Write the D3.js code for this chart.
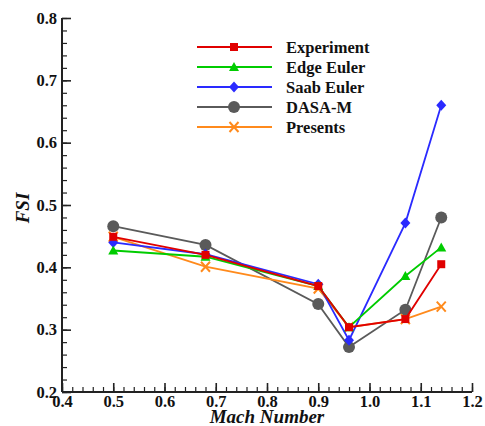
<!DOCTYPE html>
<html>
<head>
<meta charset="utf-8">
<script src="https://cdn.jsdelivr.net/npm/d3@7"></script>
<style>
  body { margin: 0; background: #fff; }
  svg text { font-family: "Liberation Serif", "Times New Roman", serif; font-weight: bold; fill: #111; }
</style>
</head>
<body>
<div id="plot"></div>
<script>
// data
var mach = [0.5, 0.68, 0.9, 0.96, 1.07, 1.14];
var experiment = [0.449, 0.420, 0.370, 0.304, 0.317, 0.405];
var edgeEuler = [0.427, 0.417, 0.370, 0.304, 0.386, 0.432];
var saabEuler = [0.440, 0.421, 0.373, 0.283, 0.471, 0.660];
var dasaM = [0.466, 0.436, 0.341, 0.272, 0.332, 0.480];
var presents = [0.449, 0.401, 0.366, 0.304, 0.317, 0.337];
var seriesNames = ["Experiment", "Edge Euler", "Saab Euler", "DASA-M", "Presents"];
var xTicks = [0.4, 0.5, 0.6, 0.7, 0.8, 0.9, 1.0, 1.1, 1.2];
var yTicks = [0.2, 0.3, 0.4, 0.5, 0.6, 0.7, 0.8];

var width = 485;
var height = 426;
var plotLeft = 62, plotRight = 472, plotTop = 18, plotBottom = 392;

var series = [
  { name: seriesNames[0], values: experiment, color: "#e00000", marker: "square" },
  { name: seriesNames[1], values: edgeEuler, color: "#00cc00", marker: "triangle" },
  { name: seriesNames[2], values: saabEuler, color: "#2a2aff", marker: "diamond" },
  { name: seriesNames[3], values: dasaM, color: "#5a5a5a", marker: "circle" },
  { name: seriesNames[4], values: presents, color: "#ff8a1c", marker: "cross" }
];

var svg = d3.select("#plot").
append("svg").
attr("width", width).
attr("height", height);

var x = d3.scaleLinear().domain([0.4, 1.2]).range([plotLeft, plotRight]);
var y = d3.scaleLinear().domain([0.2, 0.8]).range([plotBottom, plotTop]);

// minor ticks
var xMinor = d3.range(0.4, 1.2001, 0.02);
var yMinor = d3.range(0.2, 0.8001, 0.02);

svg.append("g").
attr("transform", "translate(0," + plotBottom + ")").
call(d3.axisBottom(x).tickValues(xMinor).tickSize(-5).tickFormat("")).
call(function (g) {g.select(".domain").remove();}).
selectAll("line").attr("stroke", "#222").attr("stroke-width", 1.2);

svg.append("g").
attr("transform", "translate(" + plotLeft + ",0)").
call(d3.axisLeft(y).tickValues(yMinor).tickSize(-5).tickFormat("")).
call(function (g) {g.select(".domain").remove();}).
selectAll("line").attr("stroke", "#222").attr("stroke-width", 1.2);

var xAxis = svg.append("g").
attr("transform", "translate(0," + plotBottom + ")").
call(d3.axisBottom(x).tickValues(xTicks).tickSize(-9).tickPadding(3).tickFormat(d3.format(".1f")));
xAxis.select(".domain").attr("d", "M" + plotLeft + ",0H" + plotRight).attr("stroke", "#222").attr("stroke-width", 2);
xAxis.selectAll("line").attr("stroke", "#222").attr("stroke-width", 1.6);

var yAxis = svg.append("g").
attr("transform", "translate(" + plotLeft + ",0)").
call(d3.axisLeft(y).tickValues(yTicks).tickSize(-9).tickPadding(5).tickFormat(d3.format(".1f")));
yAxis.select(".domain").attr("d", "M0," + plotTop + "V" + plotBottom).attr("stroke", "#222").attr("stroke-width", 2);
yAxis.selectAll("line").attr("stroke", "#222").attr("stroke-width", 1.6);

svg.selectAll(".tick text").
attr("font-size", 16.5).
attr("fill", "#111").
style("font-family", "'Liberation Serif', serif").
style("font-weight", "bold");

// axis titles
svg.append("text").
attr("x", (plotLeft + plotRight) / 2).
attr("y", 423).
attr("text-anchor", "middle").
attr("font-size", 19).
attr("font-style", "italic").
text("Mach Number");

svg.append("text").
attr("transform", "translate(29,208) rotate(-90)").
attr("text-anchor", "middle").
attr("font-size", 19).
attr("font-style", "italic").
text("FSI");

function drawMarker(g, type, color) {
  if (type === "square") {
    g.append("rect").attr("x", -4).attr("y", -4).attr("width", 8).attr("height", 8).attr("fill", color);
  } else if (type === "triangle") {
    g.append("path").attr("d", "M0,-5L5,4H-5Z").attr("fill", color);
  } else if (type === "diamond") {
    g.append("path").attr("d", "M0,-5.5L5,0L0,5.5L-5,0Z").attr("fill", color);
  } else if (type === "circle") {
    g.append("circle").attr("r", 6).attr("fill", color);
  } else if (type === "cross") {
    g.append("path").attr("d", "M-4.5,-5L4.5,5M-4.5,5L4.5,-5").attr("stroke", color).attr("stroke-width", 2).attr("fill", "none");
  }
}

var line = d3.line().
x(function (d) {return x(d[0]);}).
y(function (d) {return y(d[1]);});

// DASA-M first so it sits beneath, the experiment on top
var order = [3, 4, 2, 1, 0];
order.forEach(function (i) {
  var s = series[i];
  var pts = mach.map(function (m, j) {return [m, s.values[j]];});
  svg.append("path").
  datum(pts).
  attr("d", line).
  attr("fill", "none").
  attr("stroke", s.color).
  attr("stroke-width", 1.8);
  pts.forEach(function (p) {
    var g = svg.append("g").attr("transform", "translate(" + x(p[0]) + "," + y(p[1]) + ")");
    drawMarker(g, s.marker, s.color);
  });
});

// legend
var legend = svg.append("g").attr("transform", "translate(197,47)");
series.forEach(function (s, i) {
  var row = legend.append("g").attr("transform", "translate(0," + i * 20 + ")");
  row.append("line").attr("x1", 0).attr("x2", 75).attr("y1", 0).attr("y2", 0).
  attr("stroke", s.color).attr("stroke-width", 1.8);
  var m = row.append("g").attr("transform", "translate(37,0)");
  drawMarker(m, s.marker, s.color);
  row.append("text").attr("x", 89).attr("y", 5.5).attr("font-size", 16.5).text(s.name);
});
</script>
</body>
</html>
